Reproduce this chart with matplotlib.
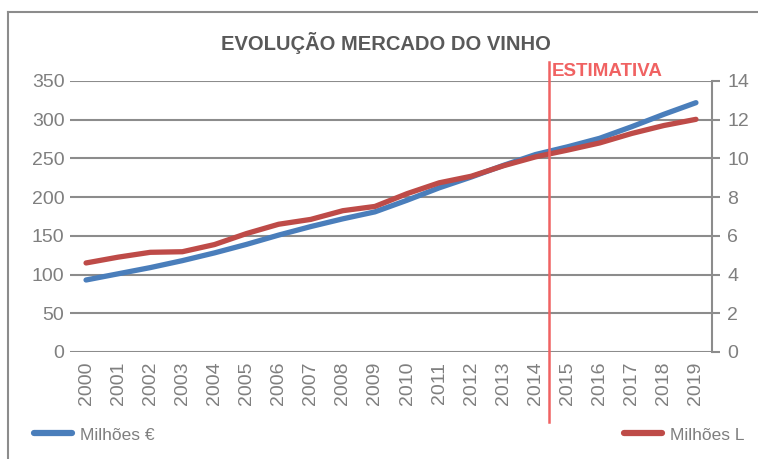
import matplotlib.pyplot as plt
from matplotlib.lines import Line2D
from matplotlib.transforms import blended_transform_factory

# dados
anos = [str(a) for a in range(2000, 2020)]
milhoes_eur = [93, 101, 109, 118, 128, 139, 151, 162, 172, 181,
               196, 212, 226, 241, 255, 265, 276, 291, 307, 322]
milhoes_l = [4.6, 4.9, 5.15, 5.18, 5.55, 6.12, 6.6, 6.85, 7.3, 7.52,
             8.18, 8.74, 9.08, 9.62, 10.08, 10.43, 10.8, 11.29, 11.7, 12.02]

plt.rcParams['font.family'] = ['Liberation Sans Narrow', 'Liberation Sans', 'DejaVu Sans']
cinza = '#7f7f7f'
grelha = '#8c8c8c'
azul = '#4a7ebb'
vermelho = '#be4b48'
linha_est = '#f06262'

W, H = 758, 459
fig = plt.figure(figsize=(W / 100, H / 100), dpi=100)
ax = fig.add_axes([70 / W, 1 - 352 / H, 642 / W, 271 / H])
ax2 = ax.twinx()

x = list(range(len(anos)))
ax.plot(x, milhoes_eur, color=azul, lw=3.8, solid_capstyle='round', zorder=3)
ax2.plot(x, milhoes_l, color=vermelho, lw=3.8, solid_capstyle='round', zorder=3)

ax.set_xlim(-0.5, len(anos) - 0.5)
ax.set_ylim(0, 350)
ax2.set_ylim(0, 14)
ax.set_yticks(range(0, 351, 50))
ax2.set_yticks(range(0, 15, 2))
ax.set_xticks(x)
ax.set_xticklabels(anos, rotation=90, color=cinza, fontsize=14)
ax.tick_params(axis='x', length=0, pad=7)
ax.tick_params(axis='y', length=0, labelcolor=cinza, labelsize=14, pad=4)
ax2.tick_params(axis='y', length=6, width=1.5, color=grelha, labelcolor=cinza,
                labelsize=14, pad=5)
ax.grid(axis='y', color=grelha, lw=1.5)
ax.set_axisbelow(True)

for s in ['top', 'left', 'right', 'bottom']:
    ax.spines[s].set_visible(False)
for s in ['top', 'left', 'bottom']:
    ax2.spines[s].set_visible(False)
ax2.spines['right'].set_color(grelha)
ax2.spines['right'].set_linewidth(1.5)

# linha de estimativa
ax2.axvline(14.42, ymin=-0.258, ymax=1.07, color=linha_est, lw=1.8,
            clip_on=False, zorder=4)
tr = blended_transform_factory(ax.transData, ax.transAxes)
ax.text(14.5, 1.003, 'ESTIMATIVA', transform=tr, color=linha_est,
        fontsize=13.5, fontweight='bold', ha='left', va='bottom')

fig.text(386 / W, 1 - 43 / H, 'EVOLUÇÃO MERCADO DO VINHO', ha='center',
         va='center', fontsize=14.5, fontweight='bold', color='#595959')

# legendas
h1 = Line2D([], [], color=azul, lw=4.5, solid_capstyle='round')
h2 = Line2D([], [], color=vermelho, lw=4.5, solid_capstyle='round')
kw = dict(frameon=False, fontsize=12.5, handlelength=2.2, handletextpad=0.45,
          borderpad=0, borderaxespad=0, labelcolor=cinza)
fig.legend([h1], ['Milhões €'], loc='center left',
           bbox_to_anchor=(34 / W, 1 - 435 / H), **kw)
fig.legend([h2], ['Milhões L'], loc='center left',
           bbox_to_anchor=(624 / W, 1 - 435 / H), **kw)

# moldura
fig.add_artist(Line2D([8 / W, 8 / W], [0, 1 - 12 / H], color='#8c8c8c', lw=1.5))
fig.add_artist(Line2D([8 / W, 1], [1 - 12 / H, 1 - 12 / H], color='#8c8c8c', lw=1.5))

fig.savefig('out.png', dpi=100)
